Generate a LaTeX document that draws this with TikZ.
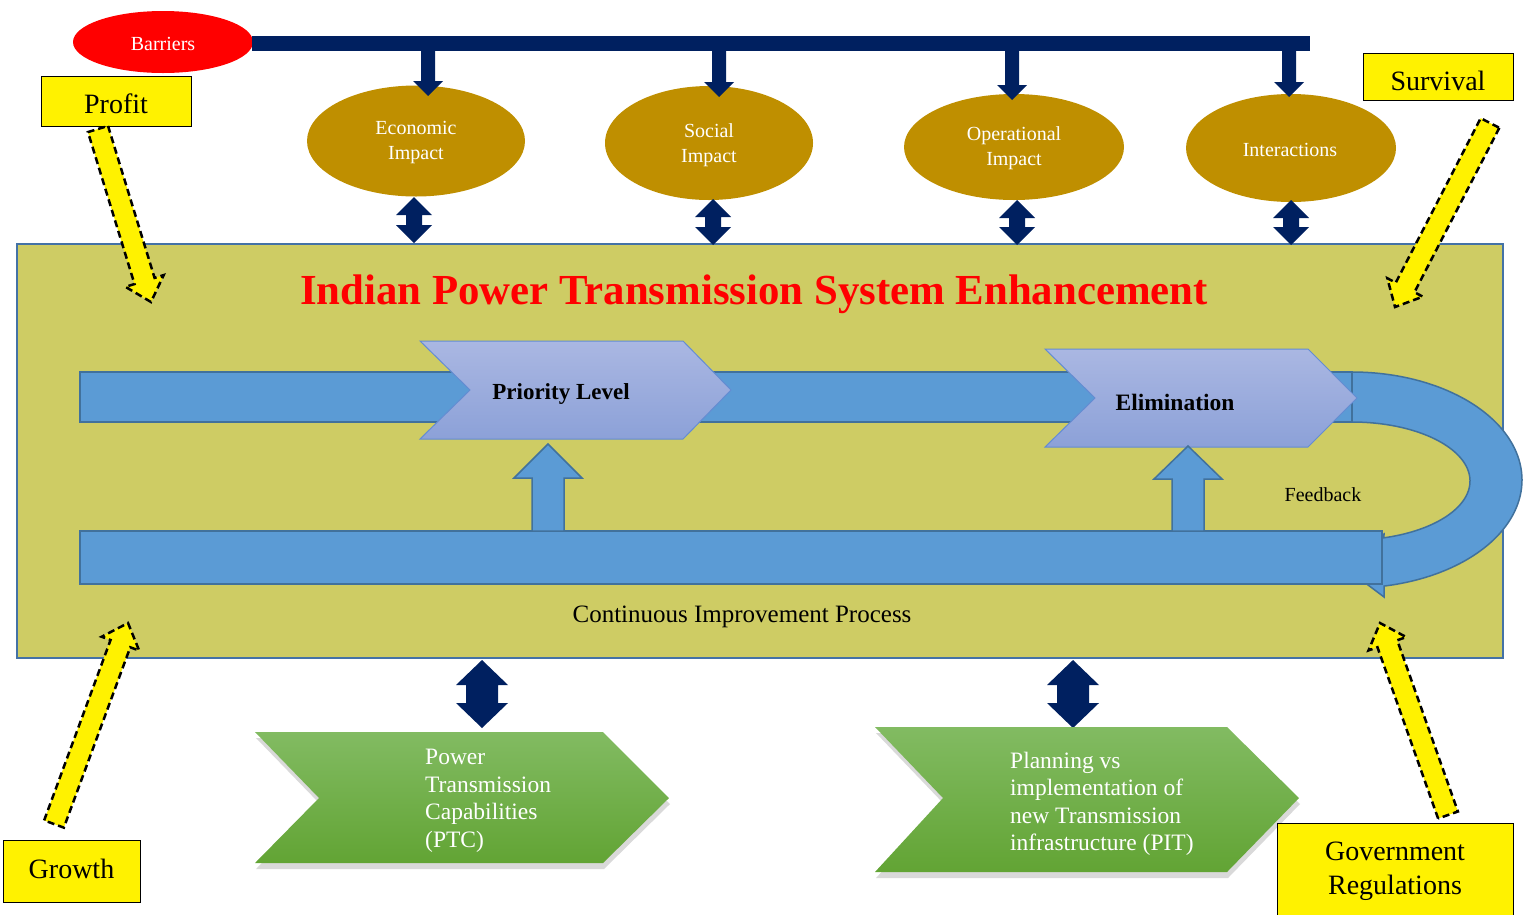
\documentclass[tikz,border=0pt]{standalone}
\usepackage{fontspec}
\setmainfont{Liberation Serif}
\usetikzlibrary{calc,shadows,shapes.geometric}
\definecolor{navy}{RGB}{0,32,96}
\definecolor{gold}{RGB}{191,143,0}
\definecolor{olivebox}{RGB}{206,204,100}
\definecolor{boxline}{RGB}{68,114,166}
\definecolor{band}{RGB}{91,155,213}
\definecolor{bandline}{RGB}{65,113,156}
\definecolor{lavtop}{RGB}{170,183,226}
\definecolor{lavbot}{RGB}{140,161,216}
\definecolor{lavline}{RGB}{100,140,210}
\definecolor{greentop}{RGB}{130,187,98}
\definecolor{greenbot}{RGB}{98,164,52}
\newcommand\fatarrow[6]{%
  \coordinate (fa-c) at ($(#3)!#6!(#2)$);
  \path[#1] ($(#2)!#4!90:(#3)$) -- ($(fa-c)!#4!-90:(#2)$) -- ($(fa-c)!#5!-90:(#2)$) -- (#3) -- ($(fa-c)!#5!90:(#2)$) -- ($(fa-c)!#4!90:(#2)$) -- ($(#2)!#4!-90:(#3)$) -- cycle;}
\newcommand\dblarrow[6]{%
  \coordinate (da-1) at ($(#2)!#6!(#3)$);
  \coordinate (da-2) at ($(#3)!#6!(#2)$);
  \path[#1] (#2) -- ($(da-1)!#5!90:(#3)$) -- ($(da-1)!#4!90:(#3)$) -- ($(da-2)!#4!-90:(#2)$) -- ($(da-2)!#5!-90:(#2)$) -- (#3) -- ($(da-2)!#5!90:(#2)$) -- ($(da-2)!#4!90:(#2)$) -- ($(da-1)!#4!-90:(#3)$) -- ($(da-1)!#5!-90:(#3)$) -- cycle;}
\tikzset{
  impact/.style={ellipse, fill=gold, inner sep=0pt},
  impacttext/.style={text=white, align=center, font=\fontsize{20}{25}\selectfont},
  navyarrow/.style={fill=navy},
  bandshape/.style={draw=bandline, fill=band, line width=1.5pt, line join=miter},
  lavchev/.style={draw=lavline, line width=1pt, top color=lavtop, bottom color=lavbot},
  greenchev/.style={top color=greentop, bottom color=greenbot, drop shadow={shadow xshift=1pt, shadow yshift=-6pt, opacity=0.3}},
  greentext/.style={text=white, align=left, anchor=west, inner sep=0pt, font=\fontsize{23.5}{27.5}\selectfont},
  ybox/.style={draw=black, line width=1pt, fill=yellow},
  ylabel/.style={align=center, inner sep=0pt, font=\fontsize{28}{34}\selectfont},
  yarrow/.style={draw=black, fill=yellow, line width=2.5pt, dash pattern=on 7pt off 4pt, line join=miter},
}
\begin{document}
\begin{tikzpicture}[x=1pt,y=-1pt]
\useasboundingbox (0,0) rectangle (1530,914);
% barriers and bar
\node[ellipse, fill=red, minimum width=180pt, minimum height=62pt, inner sep=0pt] (barriers) at (163,42) {};
\node[text=white, font=\fontsize{20}{24}\selectfont] (barrierstext) at (163,44) {Barriers};
\node[fill=navy, minimum width=1058pt, minimum height=15pt, inner sep=0pt, anchor=west] (bar) at (252,43.5) {};
% impact ellipses
\node[impact, minimum width=218pt, minimum height=111pt] (econ) at (416,141) {};
\node[impacttext] (econtext) at (416,142.5) {Economic\\Impact};
\node[impact, minimum width=208pt, minimum height=114pt] (social) at (709,143) {};
\node[impacttext] (socialtext) at (709,145) {Social\\Impact};
\node[impact, minimum width=220pt, minimum height=106pt] (oper) at (1014,147) {};
\node[impacttext] (opertext) at (1014,148.5) {Operational\\Impact};
\node[impact, minimum width=210pt, minimum height=108pt] (inter) at (1291,148) {};
\node[impacttext] (intertext) at (1290,150) {Interactions};
% down arrows from bar
\coordinate (b1) at (428,51); \coordinate (e1) at (428,96);
\coordinate (b2) at (719,51); \coordinate (e2) at (719,97);
\coordinate (b3) at (1012,51); \coordinate (e3) at (1012,100);
\coordinate (b4) at (1289,51); \coordinate (e4) at (1289,97);
\fatarrow{navyarrow}{b1}{e1}{7pt}{15pt}{15pt}
\fatarrow{navyarrow}{b2}{e2}{7pt}{15pt}{15pt}
\fatarrow{navyarrow}{b3}{e3}{7pt}{15pt}{15pt}
\fatarrow{navyarrow}{b4}{e4}{7pt}{15pt}{15pt}
% main box
\node[draw=boxline, line width=2pt, fill=olivebox, minimum width=1486pt, minimum height=414pt, inner sep=0pt] (sys) at (760,451) {};
\node[text=red, font=\bfseries\fontsize{42.8}{50}\selectfont] (title) at (754,294) {Indian Power Transmission System Enhancement};
% double arrows ellipse <-> box
\coordinate (t1a) at (414,197); \coordinate (t1b) at (414,243);
\coordinate (t2a) at (713,199); \coordinate (t2b) at (713,245);
\coordinate (t3a) at (1017,200); \coordinate (t3b) at (1017,245);
\coordinate (t4a) at (1291,200); \coordinate (t4b) at (1291,245);
\dblarrow{navyarrow}{t1a}{t1b}{8pt}{18pt}{18pt}
\dblarrow{navyarrow}{t2a}{t2b}{8pt}{18pt}{18pt}
\dblarrow{navyarrow}{t3a}{t3b}{8pt}{18pt}{18pt}
\dblarrow{navyarrow}{t4a}{t4b}{8pt}{18pt}{18pt}
% top band
\path[bandshape] (80,372) rectangle (1352,422);
% feedback U-arrow
\path[bandshape] plot[domain=90:-79.15, samples=80, smooth] ({1352+170*cos(\x)},{480-108*sin(\x)})
  -- (1384,597) -- (1340,564) -- (1384,534)
  -- plot[domain=-74.3:90, samples=80, smooth] ({1352+118*cos(\x)},{481-59*sin(\x)}) -- cycle;
% chevrons
\path[lavchev] (420,341) -- (683,341) -- (731,390) -- (683,439) -- (420,439) -- (470,390) -- cycle;
\node[font=\bfseries\fontsize{23}{28}\selectfont] (prio) at (561,394) {Priority Level};
\path[lavchev] (1045,349) -- (1308,349) -- (1357,398) -- (1308,447) -- (1045,447) -- (1095,398) -- cycle;
\node[font=\bfseries\fontsize{23.5}{28}\selectfont] (elim) at (1175,402) {Elimination};
% bottom band
\path[bandshape] (80,531) rectangle (1382,584);
% up arrows
\coordinate (u1a) at (548,531); \coordinate (u1b) at (548,444);
\coordinate (u2a) at (1188,531); \coordinate (u2b) at (1188,446);
\fatarrow{bandshape}{u1a}{u1b}{16pt}{34pt}{34pt}
\fatarrow{bandshape}{u2a}{u2b}{16pt}{34pt}{33pt}
\node[font=\fontsize{20}{24}\selectfont] (fb) at (1323,495) {Feedback};
\node[font=\fontsize{25}{30}\selectfont] (cip) at (742,617) {Continuous Improvement Process};
% bottom double arrows
\coordinate (m1a) at (482,660); \coordinate (m1b) at (482,728);
\coordinate (m2a) at (1073,660); \coordinate (m2b) at (1073,728);
\dblarrow{navyarrow}{m1a}{m1b}{16pt}{26pt}{25pt}
\dblarrow{navyarrow}{m2a}{m2b}{16pt}{26pt}{25pt}
% green chevrons
\path[greenchev] (255,732) -- (603,732) -- (669,798) -- (603,863) -- (255,863) -- (319,798) -- cycle;
\node[greentext] (ptc) at (425,801) {Power\\Transmission\\Capabilities\\(PTC)};
\path[greenchev] (875,727) -- (1227,727) -- (1299,798) -- (1227,872) -- (875,872) -- (943,798) -- cycle;
\node[greentext] (pit) at (1010,804) {Planning vs\\implementation of\\new Transmission\\infrastructure (PIT)};
% yellow labels
\path[ybox] (41,76) rectangle (191,126);
\node[ylabel] (profit) at (116,104) {Profit};
\path[ybox] (1363,53) rectangle (1513,100);
\node[ylabel] (survival) at (1438,81) {Survival};
\path[ybox] (3,840) rectangle (140,902);
\node[ylabel] (growth) at (71.5,869) {Growth};
\path[ybox] (1277,823) rectangle (1513,916);
\node[ylabel] (govt) at (1395,871.5) {Government\\Regulations};
% yellow dashed arrows
\coordinate (y1a) at (98,129); \coordinate (y1b) at (151,302);
\coordinate (y2a) at (1490,123); \coordinate (y2b) at (1395,307);
\coordinate (y3a) at (54,824); \coordinate (y3b) at (128,623);
\coordinate (y4a) at (1448,815); \coordinate (y4b) at (1380,623);
\fatarrow{yarrow}{y1a}{y1b}{10.5pt}{20pt}{22pt}
\fatarrow{yarrow}{y2a}{y2b}{10.5pt}{20pt}{22pt}
\fatarrow{yarrow}{y3a}{y3b}{10.5pt}{20pt}{22pt}
\fatarrow{yarrow}{y4a}{y4b}{10.5pt}{20pt}{22pt}
\end{tikzpicture}
\end{document}
